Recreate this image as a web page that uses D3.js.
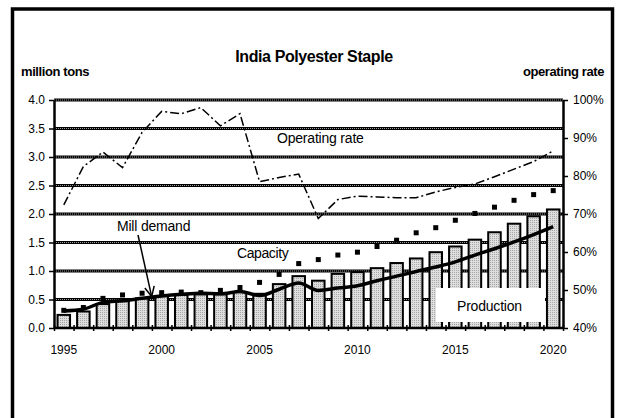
<!DOCTYPE html>
<html>
<head>
<meta charset="utf-8">
<script src="https://cdn.jsdelivr.net/npm/d3@7"></script>
<style>
  body { margin: 0; background: #fff; }
  svg { display: block; font-family: "Liberation Sans", Arial, sans-serif; }
</style>
</head>
<body>
<div id="chart"></div>
<script>
// --- data ---
const years = [1995, 1996, 1997, 1998, 1999, 2000, 2001, 2002, 2003, 2004, 2005, 2006, 2007,
               2008, 2009, 2010, 2011, 2012, 2013, 2014, 2015, 2016, 2017, 2018, 2019, 2020];
const production = [0.23, 0.29, 0.42, 0.47, 0.52, 0.56, 0.58, 0.59, 0.59, 0.63, 0.60, 0.77, 0.91,
                    0.83, 0.95, 0.98, 1.05, 1.14, 1.22, 1.33, 1.43, 1.55, 1.68, 1.83, 1.96, 2.08];
const capacity = [0.31, 0.36, 0.52, 0.58, 0.61, 0.62, 0.63, 0.62, 0.66, 0.71, 0.80, 0.94, 1.13,
                  1.20, 1.28, 1.33, 1.43, 1.54, 1.67, 1.76, 1.89, 2.01, 2.12, 2.24, 2.34, 2.41];
const millDemand = [0.30, 0.33, 0.45, 0.48, 0.52, 0.56, 0.59, 0.61, 0.60, 0.64, 0.57, 0.68, 0.79,
                    0.66, 0.70, 0.74, 0.83, 0.91, 0.99, 1.07, 1.16, 1.28, 1.39, 1.51, 1.64, 1.78];
const operatingRate = [0.724, 0.825, 0.863, 0.822, 0.915, 0.970, 0.964, 0.980, 0.932, 0.964, 0.785, 0.796, 0.805,
                       0.688, 0.738, 0.747, 0.745, 0.743, 0.743, 0.758, 0.770, 0.779, 0.798, 0.818, 0.838, 0.866];
const leftTicks = [0, 0.5, 1.0, 1.5, 2.0, 2.5, 3.0, 3.5, 4.0];
const rightTicks = [0.4, 0.5, 0.6, 0.7, 0.8, 0.9, 1.0];
const yearLabels = [1995, 2000, 2005, 2010, 2015, 2020];

const W = 621, H = 418;
const plotL = 54, plotR = 563, plotT = 100, plotB = 328;

const svg = d3.select("#chart").append("svg")
    .attr("width", W).attr("height", H);

// stippled grey fill for bars
const defs = svg.append("defs");
const pat = defs.append("pattern").attr("id", "stip")
    .attr("width", 2).attr("height", 2).attr("patternUnits", "userSpaceOnUse");
pat.append("rect").attr("width", 2).attr("height", 2).attr("fill", "#dedede");
pat.append("rect").attr("width", 1).attr("height", 1).attr("fill", "#a6a6a6");

// outer frame
svg.append("rect").attr("x", 12.5).attr("y", 9).attr("width", 600).attr("height", 430)
    .attr("fill", "none").attr("stroke", "#000").attr("stroke-width", 3.5);

const x = d3.scaleBand().domain(years).range([plotL, plotR]).paddingInner(0.36).paddingOuter(0.18);
const xEdge = d3.scaleLinear().domain([0, years.length]).range([plotL, plotR]);
const yL = d3.scaleLinear().domain([0, 4]).range([plotB, plotT]);
const yR = d3.scaleLinear().domain([0.4, 1.0]).range([plotB, plotT]);
const cx = d => x(d) + x.bandwidth() / 2;

// gridlines
const grid = svg.append("g");
leftTicks.filter(v => v > 0).forEach(v => {
    grid.append("line").attr("x1", plotL).attr("x2", plotR).attr("y1", yL(v)).attr("y2", yL(v))
        .attr("stroke", "#000").attr("stroke-width", 3);
    grid.append("line").attr("x1", plotL).attr("x2", plotR).attr("y1", yL(v)).attr("y2", yL(v))
        .attr("stroke", "#9a9a9a").attr("stroke-width", 1).attr("stroke-dasharray", "1,1");
});

// production bars
svg.append("g").selectAll("rect")
    .data(years)
    .join("rect")
    .attr("x", d => x(d))
    .attr("y", (d, i) => yL(production[i]))
    .attr("width", x.bandwidth())
    .attr("height", (d, i) => yL(0) - yL(production[i]))
    .attr("fill", "url(#stip)")
    .attr("stroke", "#000")
    .attr("stroke-width", 2);

// white box behind "Production"
svg.append("rect").attr("x", 436).attr("y", 288).attr("width", 109).attr("height", 34).attr("fill", "#fff");
svg.append("text").attr("x", 457).attr("y", 311).attr("font-size", 14).attr("letter-spacing", -0.2)
    .text("Production");

// capacity squares
svg.append("g").selectAll("rect")
    .data(years)
    .join("rect")
    .attr("x", d => cx(d) - 2.5)
    .attr("y", (d, i) => yL(capacity[i]) - 2.5)
    .attr("width", 5).attr("height", 5)
    .attr("fill", "#000");

// mill demand
const demandLine = d3.line().x(d => cx(d[0])).y(d => yL(d[1])).curve(d3.curveMonotoneX);
svg.append("path")
    .datum(years.map((y, i) => [y, millDemand[i]]))
    .attr("d", demandLine)
    .attr("fill", "none").attr("stroke", "#000").attr("stroke-width", 3.5);

// operating rate (right axis)
const rateLine = d3.line().x(d => cx(d[0])).y(d => yR(d[1]));
svg.append("path")
    .datum(years.map((y, i) => [y, operatingRate[i]]))
    .attr("d", rateLine)
    .attr("fill", "none").attr("stroke", "#000").attr("stroke-width", 1.5)
    .attr("stroke-dasharray", "9,3,2,3");

// axes
const axL = svg.append("g").attr("transform", `translate(${plotL},0)`)
    .call(d3.axisLeft(yL).tickValues(leftTicks).tickFormat(d3.format(".1f")).tickSize(5).tickSizeOuter(0).tickPadding(4));
const axR = svg.append("g").attr("transform", `translate(${plotR},0)`)
    .call(d3.axisRight(yR).tickValues(rightTicks).tickFormat(d3.format(".0%")).tickSize(5).tickSizeOuter(0).tickPadding(5));
[axL, axR].forEach(a => {
    a.select(".domain").attr("stroke-width", 2.5);
    a.selectAll(".tick line").attr("stroke-width", 1.5);
    a.selectAll("text").attr("font-size", 12).attr("fill", "#000").attr("font-family", "Liberation Sans, Arial, sans-serif");
});

const axB = svg.append("g").attr("transform", `translate(0,${plotB - 3})`)
    .call(d3.axisBottom(xEdge).tickValues(d3.range(years.length + 1)).tickSize(6).tickFormat(""));
axB.select(".domain").remove();
axB.selectAll(".tick line").attr("stroke-width", 1.5);
svg.append("line").attr("x1", plotL).attr("x2", plotR).attr("y1", plotB).attr("y2", plotB)
    .attr("stroke", "#000").attr("stroke-width", 2.5);

svg.append("g").selectAll("text")
    .data(yearLabels)
    .join("text")
    .attr("x", d => cx(d))
    .attr("y", 354)
    .attr("text-anchor", "middle")
    .attr("font-size", 12)
    .text(d => d);

// titles
svg.append("text").attr("x", 314).attr("y", 62).attr("text-anchor", "middle")
    .attr("font-size", 16).attr("font-weight", "bold").attr("letter-spacing", -0.4)
    .text("India Polyester Staple");
svg.append("text").attr("x", 21).attr("y", 76)
    .attr("font-size", 13).attr("font-weight", "bold").attr("letter-spacing", -0.4)
    .text("million tons");
svg.append("text").attr("x", 604).attr("y", 76).attr("text-anchor", "end")
    .attr("font-size", 13).attr("font-weight", "bold").attr("letter-spacing", -0.4)
    .text("operating rate");

// annotations
svg.append("text").attr("x", 277).attr("y", 143).attr("font-size", 14).attr("letter-spacing", -0.2)
    .text("Operating rate");
svg.append("text").attr("x", 117).attr("y", 231).attr("font-size", 14).attr("letter-spacing", -0.2)
    .text("Mill demand");
svg.append("text").attr("x", 237).attr("y", 258).attr("font-size", 14).attr("letter-spacing", -0.4)
    .text("Capacity");

// arrow to mill demand line
const tip = [cx(2000) - 10, yL(millDemand[5]) + 0.5];
const tail = [138, 235];
svg.append("line").attr("x1", tail[0]).attr("y1", tail[1]).attr("x2", tip[0]).attr("y2", tip[1])
    .attr("stroke", "#000").attr("stroke-width", 1.5);
const ang = Math.atan2(tip[1] - tail[1], tip[0] - tail[0]);
[-0.45, 0.45].forEach(da => {
    svg.append("line")
        .attr("x1", tip[0]).attr("y1", tip[1])
        .attr("x2", tip[0] - 11 * Math.cos(ang + da)).attr("y2", tip[1] - 11 * Math.sin(ang + da))
        .attr("stroke", "#000").attr("stroke-width", 1.5);
});
</script>
</body>
</html>
